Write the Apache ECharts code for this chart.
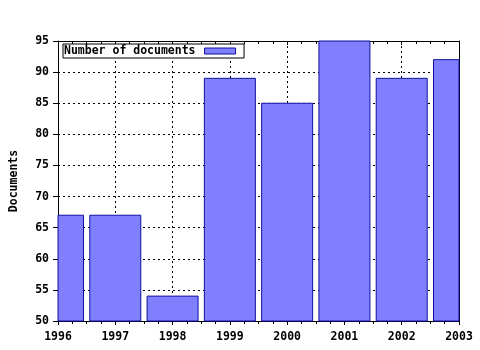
<!DOCTYPE html>
<html><head><meta charset="utf-8">
<script src="https://cdn.jsdelivr.net/npm/echarts@6/dist/echarts.min.js"></script>
<style>html,body{margin:0;padding:0;background:#fff}#c{width:480px;height:350px}</style>
</head><body><div id="c"></div>
<script>
const years = [1996, 1997, 1998, 1999, 2000, 2001, 2002, 2003];
const documents = [67, 67, 54, 89, 85, 95, 89, 92];
const seriesName = 'Number of documents';
const yAxisName = 'Documents';

const font = {fontFamily: 'DejaVu Sans Mono', fontWeight: 'bold', fontSize: 11.5, color: '#000'};
const dash = {type: [2, 3], color: '#000', width: 1};
const barFill = '#8080ff', barStroke = '#1010a0';
const chart = echarts.init(document.getElementById('c'), null, {renderer: 'canvas'});
chart.setOption({
  animation: false,
  backgroundColor: '#fff',
  grid: {left: 57, right: 21, top: 41, bottom: 29, show: false},
  legend: {
    show: true, left: 63, top: 44, icon: 'rect', align: 'right',
    data: [{name: seriesName, itemStyle: {color: barFill, borderColor: barStroke, borderWidth: 1}}],
    itemWidth: 31, itemHeight: 6, itemGap: 0,
    borderColor: '#000', borderWidth: 1, backgroundColor: '#fff', borderRadius: 0,
    padding: [1, 8, 1, 1],
    textStyle: Object.assign({}, font, {padding: [0, 4, 0, 0], lineHeight: 12})
  },
  xAxis: [{
    type: 'value', min: years[0], max: years[years.length - 1], interval: 1,
    axisLine: {show: true, lineStyle: {color: '#000'}},
    axisTick: {show: true, length: 4, lineStyle: {color: '#000'}},
    minorTick: {show: true, splitNumber: 4, length: 3, lineStyle: {color: '#000'}},
    axisLabel: Object.assign({}, font, {margin: 10, formatter: v => String(v)}),
    splitLine: {show: true, lineStyle: dash}
  }, {
    type: 'value', position: 'top', min: years[0], max: years[years.length - 1], interval: 1,
    axisLine: {show: true, lineStyle: {color: '#000'}},
    axisTick: {show: true, inside: true, length: 4, lineStyle: {color: '#000'}},
    minorTick: {show: true, splitNumber: 4, length: 3, lineStyle: {color: '#000'}},
    axisLabel: {show: false}, splitLine: {show: false}
  }],
  yAxis: [{
    type: 'value', min: 50, max: 95, interval: 5,
    name: yAxisName, nameLocation: 'middle', nameGap: 38, nameRotate: 90,
    nameTextStyle: font,
    axisLine: {show: true, lineStyle: {color: '#000'}},
    axisTick: {show: true, length: 5, lineStyle: {color: '#000'}},
    axisLabel: Object.assign({}, font, {margin: 9}),
    splitLine: {show: true, lineStyle: dash}
  }, {
    type: 'value', position: 'right', min: 50, max: 95, interval: 5,
    axisLine: {show: true, lineStyle: {color: '#000'}},
    axisTick: {show: false}, axisLabel: {show: false}, splitLine: {show: false}
  }],
  series: [{
    name: seriesName, type: 'custom', z: 1,
    itemStyle: {color: barFill, borderColor: barStroke, borderWidth: 1},
    encode: {x: 0, y: 1},
    renderItem: function (params, api) {
      const x = api.value(0), y = api.value(1);
      const top = api.coord([x, y]);
      const base = api.coord([x, 50]);
      const w = 51;
      const cs = params.coordSys;
      const shape = echarts.graphic.clipRectByRect(
        {x: top[0] - w / 2, y: top[1], width: w, height: base[1] - top[1]},
        {x: cs.x, y: cs.y, width: cs.width, height: cs.height});
      if (!shape) return;
      return {type: 'rect', shape: shape,
        style: {fill: barFill, stroke: barStroke, lineWidth: 1}};
    },
    data: years.map((y, i) => [y, documents[i]])
  }]
});
</script></body></html>
